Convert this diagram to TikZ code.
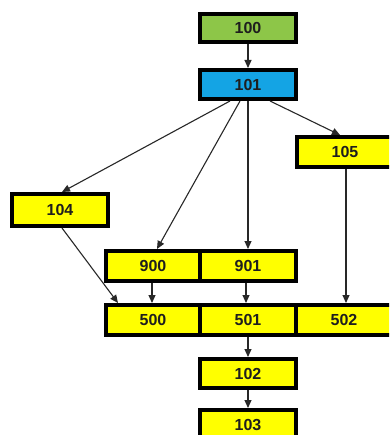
\documentclass[tikz,border=0pt]{standalone}
\usepackage{fontspec}
\setmainfont{Liberation Sans}
\usetikzlibrary{arrows.meta}
\definecolor{boxgreen}{RGB}{141,198,72}
\definecolor{boxblue}{RGB}{20,164,228}
\definecolor{boxyellow}{RGB}{255,255,0}
\definecolor{txt}{RGB}{30,30,30}
\definecolor{linec}{RGB}{40,40,40}
\tikzset{
  box/.style={draw=black, line width=4pt, rectangle, inner sep=0pt,
    minimum width=96pt, minimum height=30pt, fill=boxyellow,
    text=txt, font=\fontsize{16}{18}\selectfont\bfseries},
  conn/.style={draw=linec, line width=1.1pt, -{Triangle[length=8pt,width=7pt]}}
}
\begin{document}
\begin{tikzpicture}[x=1pt,y=-1pt]
\useasboundingbox (0,0) rectangle (389,435);
\clip (0,0) rectangle (389,435);
\fill[white] (0,0) rectangle (389,435);
% nodes
\node[box, fill=boxgreen, minimum height=28pt] (n100) at (248,28) {100};
\node[box, fill=boxblue, minimum height=29pt] (n101) at (248,84.5) {101};
\node[box, minimum height=30pt] (n105) at (345,152) {105};
\node[box, minimum height=32pt] (n104) at (60,210) {104};
\node[box, minimum width=94pt] (n900) at (153,266) {900};
\node[box, minimum width=96pt] (n901) at (248,266) {901};
\node[box, minimum width=94pt] (n500) at (153,320) {500};
\node[box, minimum width=96pt] (n501) at (248,320) {501};
\node[box, minimum width=96pt] (n502) at (344,320) {502};
\node[box, minimum height=29pt] (n102) at (248,373.5) {102};
\node[box, minimum height=30pt] (n103) at (248,425) {103};
% connectors
\draw[conn] (n100.south) -- (n101.north);
\draw[conn] ([xshift=-18pt]n101.south) -- ([xshift=2pt]n104.north);
\draw[conn] ([xshift=-8pt]n101.south) -- ([xshift=4pt]n900.north);
\draw[conn] (n101.south) -- (n901.north);
\draw[conn] ([xshift=22pt]n101.south) -- ([xshift=-5pt]n105.north);
\draw[conn] ([xshift=1pt]n105.south) -- ([xshift=2pt]n502.north);
\draw[conn] ([xshift=2pt]n104.south) -- ([xshift=-35pt]n500.north);
\draw[conn] ([xshift=-1pt]n900.south) -- ([xshift=-1pt]n500.north);
\draw[conn] ([xshift=-2pt]n901.south) -- ([xshift=-2pt]n501.north);
\draw[conn] (n501.south) -- (n102.north);
\draw[conn] (n102.south) -- (n103.north);
\end{tikzpicture}
\end{document}
